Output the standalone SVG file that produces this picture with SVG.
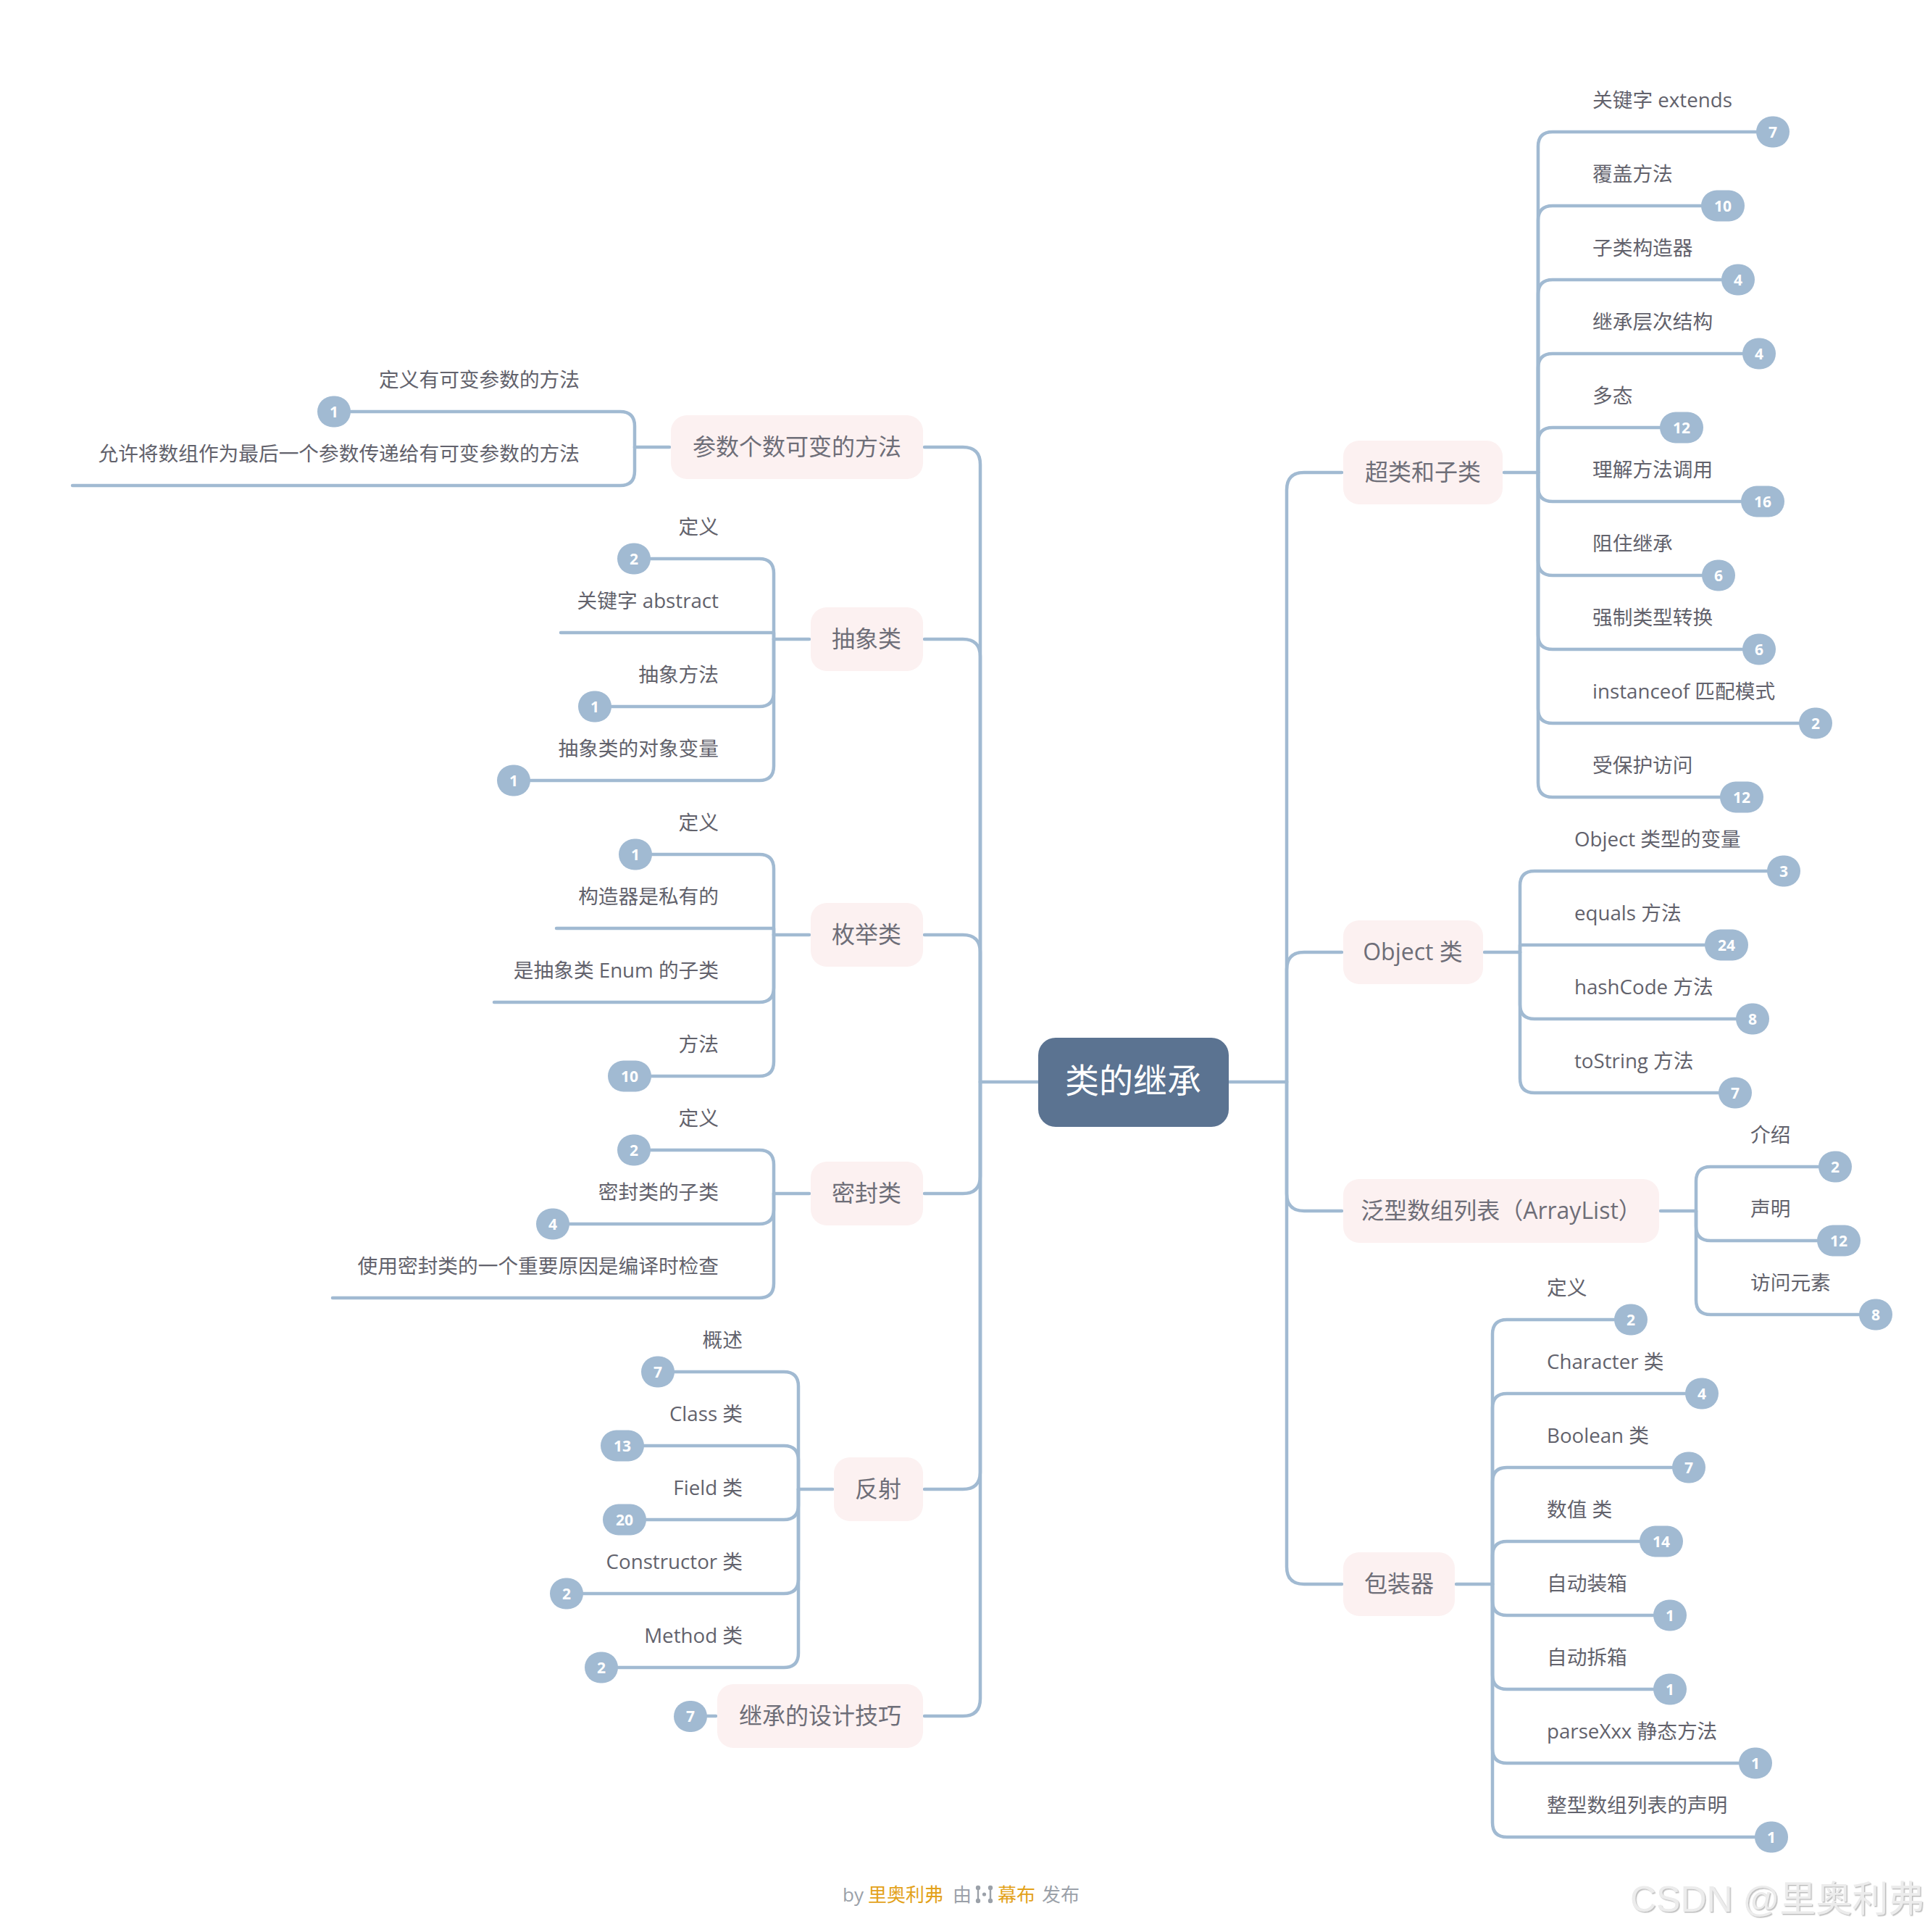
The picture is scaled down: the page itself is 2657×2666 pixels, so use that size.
<svg xmlns="http://www.w3.org/2000/svg" width="2657" height="2666" viewBox="0 0 2657 2666">
<style>
text{font-family:"Open Sans","Noto Sans CJK SC",sans-serif}
.ln{fill:none;stroke:#a1bad2;stroke-width:4.5;stroke-linecap:round;stroke-linejoin:round}
.bd{fill:#a1bad2}
.bt{fill:#fff;font-size:21px;font-weight:700;text-anchor:middle}
.nb{fill:#fcf1f1}
.nt{fill:#6e6e78;font-size:32px;text-anchor:middle}
.t2{fill:#62626c;font-size:27.7px}
.tl{text-anchor:end}
.ft{font-size:26px}
.g{fill:#9ba1a9}
.o{fill:#e3a21a}
</style>
<defs>
<filter id="emb" x="-5%" y="-20%" width="110%" height="140%">
<feDropShadow dx="1.5" dy="1.5" stdDeviation="0.6" flood-color="#b8b8b8" flood-opacity="0.9"/>
</filter>
</defs>
<rect width="2657" height="2666" fill="#ffffff"/>

<g id="connectors">
<path class="ln" d="M1696 1493 H1776"/>
<path class="ln" d="M1433 1493 H1353"/>
<path class="ln" d="M1776 1493 V676 Q1776 652 1800 652 H1852"/>
<path class="ln" d="M1776 1493 V1338 Q1776 1314 1800 1314 H1852"/>
<path class="ln" d="M1776 1493 V1647 Q1776 1671 1800 1671 H1852"/>
<path class="ln" d="M1776 1493 V2162 Q1776 2186 1800 2186 H1852"/>
<path class="ln" d="M1353 1493 V641 Q1353 617 1329 617 H1276"/>
<path class="ln" d="M1353 1493 V906 Q1353 882 1329 882 H1276"/>
<path class="ln" d="M1353 1493 V1314 Q1353 1290 1329 1290 H1276"/>
<path class="ln" d="M1353 1493 V1623 Q1353 1647 1329 1647 H1276"/>
<path class="ln" d="M1353 1493 V2031 Q1353 2055 1329 2055 H1276"/>
<path class="ln" d="M1353 1493 V2344 Q1353 2368 1329 2368 H1276"/>
<path class="ln" d="M953 2368 H988"/>

<path class="ln" d="M2076 652 H2123"/>
<path class="ln" d="M2123 652 V202 Q2123 182 2143 182 H2447"/>
<path class="ln" d="M2123 652 V304 Q2123 284 2143 284 H2378"/>
<path class="ln" d="M2123 652 V406 Q2123 386 2143 386 H2399"/>
<path class="ln" d="M2123 652 V508 Q2123 488 2143 488 H2428"/>
<path class="ln" d="M2123 652 V610 Q2123 590 2143 590 H2321"/>
<path class="ln" d="M2123 652 V672 Q2123 692 2143 692 H2433"/>
<path class="ln" d="M2123 652 V774 Q2123 794 2143 794 H2372"/>
<path class="ln" d="M2123 652 V876 Q2123 896 2143 896 H2428"/>
<path class="ln" d="M2123 652 V978 Q2123 998 2143 998 H2506"/>
<path class="ln" d="M2123 652 V1080 Q2123 1100 2143 1100 H2404"/>

<path class="ln" d="M2049 1314 H2098"/>
<path class="ln" d="M2098 1314 V1222 Q2098 1202 2118 1202 H2462"/>
<path class="ln" d="M2098 1314 V1304 H2383"/>
<path class="ln" d="M2098 1314 V1386 Q2098 1406 2118 1406 H2419"/>
<path class="ln" d="M2098 1314 V1488 Q2098 1508 2118 1508 H2395"/>

<path class="ln" d="M2292 1671 H2341"/>
<path class="ln" d="M2341 1671 V1630 Q2341 1610 2361 1610 H2533"/>
<path class="ln" d="M2341 1671 V1692 Q2341 1712 2361 1712 H2538"/>
<path class="ln" d="M2341 1671 V1794 Q2341 1814 2361 1814 H2589"/>

<path class="ln" d="M2010 2186 H2060"/>
<path class="ln" d="M2060 2186 V1841 Q2060 1821 2080 1821 H2251"/>
<path class="ln" d="M2060 2186 V1943 Q2060 1923 2080 1923 H2349"/>
<path class="ln" d="M2060 2186 V2045 Q2060 2025 2080 2025 H2331"/>
<path class="ln" d="M2060 2186 V2147 Q2060 2127 2080 2127 H2293"/>
<path class="ln" d="M2060 2186 V2209 Q2060 2229 2080 2229 H2305"/>
<path class="ln" d="M2060 2186 V2311 Q2060 2331 2080 2331 H2305"/>
<path class="ln" d="M2060 2186 V2413 Q2060 2433 2080 2433 H2423"/>
<path class="ln" d="M2060 2186 V2515 Q2060 2535 2080 2535 H2445"/>

<path class="ln" d="M924 617 H876"/>
<path class="ln" d="M876 617 V588 Q876 568 856 568 H461"/>
<path class="ln" d="M876 617 V650 Q876 670 856 670 H100"/>

<path class="ln" d="M1117 882 H1068"/>
<path class="ln" d="M1068 882 V791 Q1068 771 1048 771 H875"/>
<path class="ln" d="M1068 882 V873 H774"/>
<path class="ln" d="M1068 882 V955 Q1068 975 1048 975 H821"/>
<path class="ln" d="M1068 882 V1057 Q1068 1077 1048 1077 H709"/>

<path class="ln" d="M1117 1290 H1068"/>
<path class="ln" d="M1068 1290 V1199 Q1068 1179 1048 1179 H877"/>
<path class="ln" d="M1068 1290 V1281 H768"/>
<path class="ln" d="M1068 1290 V1363 Q1068 1383 1048 1383 H682"/>
<path class="ln" d="M1068 1290 V1465 Q1068 1485 1048 1485 H869"/>

<path class="ln" d="M1117 1647 H1068"/>
<path class="ln" d="M1068 1647 V1607 Q1068 1587 1048 1587 H875"/>
<path class="ln" d="M1068 1647 V1669 Q1068 1689 1048 1689 H763"/>
<path class="ln" d="M1068 1647 V1771 Q1068 1791 1048 1791 H459"/>

<path class="ln" d="M1149 2055 H1102"/>
<path class="ln" d="M1102 2055 V1913 Q1102 1893 1082 1893 H908"/>
<path class="ln" d="M1102 2055 V2015 Q1102 1995 1082 1995 H859"/>
<path class="ln" d="M1102 2055 V2077 Q1102 2097 1082 2097 H862"/>
<path class="ln" d="M1102 2055 V2179 Q1102 2199 1082 2199 H782"/>
<path class="ln" d="M1102 2055 V2281 Q1102 2301 1082 2301 H830"/>
</g>

<g id="root">
<rect x="1433" y="1432" width="263" height="123" rx="24" fill="#5b7391"/>
<text x="1564" y="1508" font-size="47" fill="#ffffff" text-anchor="middle">类的继承</text>
</g>

<g id="n-super">
<rect class="nb" x="1854" y="608" width="220" height="88" rx="22"/>
<text class="nt" x="1964" y="663">超类和子类</text>
</g>
<g id="n-object">
<rect class="nb" x="1854" y="1270" width="193" height="88" rx="22"/>
<text class="nt" x="1950" y="1325">Object 类</text>
</g>
<g id="n-arraylist">
<rect class="nb" x="1854" y="1627" width="436" height="88" rx="22"/>
<text class="nt" x="2072" y="1682">泛型数组列表（ArrayList）</text>
</g>
<g id="n-wrapper">
<rect class="nb" x="1854" y="2142" width="154" height="88" rx="22"/>
<text class="nt" x="1931" y="2197">包装器</text>
</g>

<g id="n-varargs">
<rect class="nb" x="926" y="573" width="348" height="88" rx="22"/>
<text class="nt" x="1100" y="628">参数个数可变的方法</text>
</g>
<g id="n-abstract">
<rect class="nb" x="1119" y="838" width="155" height="88" rx="22"/>
<text class="nt" x="1196" y="893">抽象类</text>
</g>
<g id="n-enum">
<rect class="nb" x="1119" y="1246" width="155" height="88" rx="22"/>
<text class="nt" x="1196" y="1301">枚举类</text>
</g>
<g id="n-sealed">
<rect class="nb" x="1119" y="1603" width="155" height="88" rx="22"/>
<text class="nt" x="1196" y="1658">密封类</text>
</g>
<g id="n-reflect">
<rect class="nb" x="1151" y="2011" width="123" height="88" rx="22"/>
<text class="nt" x="1212" y="2066">反射</text>
</g>
<g id="n-tips">
<rect class="nb" x="990" y="2324" width="284" height="88" rx="22"/>
<text class="nt" x="1132" y="2379">继承的设计技巧</text>
<rect class="bd" x="930" y="2347" width="46" height="43" rx="21.5"/>
<text class="bt" x="953" y="2376">7</text>
</g>

<g id="super-children">
<g id="s1"><text class="t2" x="2198" y="148">关键字 extends</text><rect class="bd" x="2424" y="160.5" width="46" height="43" rx="21.5"/><text class="bt" x="2447" y="190">7</text></g>
<g id="s2"><text class="t2" x="2198" y="250">覆盖方法</text><rect class="bd" x="2348" y="262.5" width="60" height="43" rx="21.5"/><text class="bt" x="2378" y="292">10</text></g>
<g id="s3"><text class="t2" x="2198" y="352">子类构造器</text><rect class="bd" x="2376" y="364.5" width="46" height="43" rx="21.5"/><text class="bt" x="2399" y="394">4</text></g>
<g id="s4"><text class="t2" x="2198" y="454">继承层次结构</text><rect class="bd" x="2405" y="466.5" width="46" height="43" rx="21.5"/><text class="bt" x="2428" y="496">4</text></g>
<g id="s5"><text class="t2" x="2198" y="556">多态</text><rect class="bd" x="2291" y="568.5" width="60" height="43" rx="21.5"/><text class="bt" x="2321" y="598">12</text></g>
<g id="s6"><text class="t2" x="2198" y="658">理解方法调用</text><rect class="bd" x="2403" y="670.5" width="60" height="43" rx="21.5"/><text class="bt" x="2433" y="700">16</text></g>
<g id="s7"><text class="t2" x="2198" y="760">阻住继承</text><rect class="bd" x="2349" y="772.5" width="46" height="43" rx="21.5"/><text class="bt" x="2372" y="802">6</text></g>
<g id="s8"><text class="t2" x="2198" y="862">强制类型转换</text><rect class="bd" x="2405" y="874.5" width="46" height="43" rx="21.5"/><text class="bt" x="2428" y="904">6</text></g>
<g id="s9"><text class="t2" x="2198" y="964">instanceof 匹配模式</text><rect class="bd" x="2483" y="976.5" width="46" height="43" rx="21.5"/><text class="bt" x="2506" y="1006">2</text></g>
<g id="s10"><text class="t2" x="2198" y="1066">受保护访问</text><rect class="bd" x="2374" y="1078.5" width="60" height="43" rx="21.5"/><text class="bt" x="2404" y="1108">12</text></g>
</g>

<g id="object-children">
<g id="o1"><text class="t2" x="2173" y="1168">Object 类型的变量</text><rect class="bd" x="2439" y="1180.5" width="46" height="43" rx="21.5"/><text class="bt" x="2462" y="1210">3</text></g>
<g id="o2"><text class="t2" x="2173" y="1270">equals 方法</text><rect class="bd" x="2353" y="1282.5" width="60" height="43" rx="21.5"/><text class="bt" x="2383" y="1312">24</text></g>
<g id="o3"><text class="t2" x="2173" y="1372">hashCode 方法</text><rect class="bd" x="2396" y="1384.5" width="46" height="43" rx="21.5"/><text class="bt" x="2419" y="1414">8</text></g>
<g id="o4"><text class="t2" x="2173" y="1474">toString 方法</text><rect class="bd" x="2372" y="1486.5" width="46" height="43" rx="21.5"/><text class="bt" x="2395" y="1516">7</text></g>
</g>

<g id="arraylist-children">
<g id="a1"><text class="t2" x="2416" y="1576">介绍</text><rect class="bd" x="2510" y="1588.5" width="46" height="43" rx="21.5"/><text class="bt" x="2533" y="1618">2</text></g>
<g id="a2"><text class="t2" x="2416" y="1678">声明</text><rect class="bd" x="2508" y="1690.5" width="60" height="43" rx="21.5"/><text class="bt" x="2538" y="1720">12</text></g>
<g id="a3"><text class="t2" x="2416" y="1780">访问元素</text><rect class="bd" x="2566" y="1792.5" width="46" height="43" rx="21.5"/><text class="bt" x="2589" y="1822">8</text></g>
</g>

<g id="wrapper-children">
<g id="w1"><text class="t2" x="2135" y="1787">定义</text><rect class="bd" x="2228" y="1799.5" width="46" height="43" rx="21.5"/><text class="bt" x="2251" y="1829">2</text></g>
<g id="w2"><text class="t2" x="2135" y="1889">Character 类</text><rect class="bd" x="2326" y="1901.5" width="46" height="43" rx="21.5"/><text class="bt" x="2349" y="1931">4</text></g>
<g id="w3"><text class="t2" x="2135" y="1991">Boolean 类</text><rect class="bd" x="2308" y="2003.5" width="46" height="43" rx="21.5"/><text class="bt" x="2331" y="2033">7</text></g>
<g id="w4"><text class="t2" x="2135" y="2093">数值 类</text><rect class="bd" x="2263" y="2105.5" width="60" height="43" rx="21.5"/><text class="bt" x="2293" y="2135">14</text></g>
<g id="w5"><text class="t2" x="2135" y="2195">自动装箱</text><rect class="bd" x="2282" y="2207.5" width="46" height="43" rx="21.5"/><text class="bt" x="2305" y="2237">1</text></g>
<g id="w6"><text class="t2" x="2135" y="2297">自动拆箱</text><rect class="bd" x="2282" y="2309.5" width="46" height="43" rx="21.5"/><text class="bt" x="2305" y="2339">1</text></g>
<g id="w7"><text class="t2" x="2135" y="2399">parseXxx 静态方法</text><rect class="bd" x="2400" y="2411.5" width="46" height="43" rx="21.5"/><text class="bt" x="2423" y="2441">1</text></g>
<g id="w8"><text class="t2" x="2135" y="2501">整型数组列表的声明</text><rect class="bd" x="2422" y="2513.5" width="46" height="43" rx="21.5"/><text class="bt" x="2445" y="2543">1</text></g>
</g>

<g id="varargs-children">
<g id="v1"><text class="t2 tl" x="800" y="534">定义有可变参数的方法</text><rect class="bd" x="438" y="546.5" width="46" height="43" rx="21.5"/><text class="bt" x="461" y="576">1</text></g>
<g id="v2"><text class="t2 tl" x="800" y="636">允许将数组作为最后一个参数传递给有可变参数的方法</text></g>
</g>

<g id="abstract-children">
<g id="ab1"><text class="t2 tl" x="992" y="737">定义</text><rect class="bd" x="852" y="749.5" width="46" height="43" rx="21.5"/><text class="bt" x="875" y="779">2</text></g>
<g id="ab2"><text class="t2 tl" x="992" y="839">关键字 abstract</text></g>
<g id="ab3"><text class="t2 tl" x="992" y="941">抽象方法</text><rect class="bd" x="798" y="953.5" width="46" height="43" rx="21.5"/><text class="bt" x="821" y="983">1</text></g>
<g id="ab4"><text class="t2 tl" x="992" y="1043">抽象类的对象变量</text><rect class="bd" x="686" y="1055.5" width="46" height="43" rx="21.5"/><text class="bt" x="709" y="1085">1</text></g>
</g>

<g id="enum-children">
<g id="e1"><text class="t2 tl" x="992" y="1145">定义</text><rect class="bd" x="854" y="1157.5" width="46" height="43" rx="21.5"/><text class="bt" x="877" y="1187">1</text></g>
<g id="e2"><text class="t2 tl" x="992" y="1247">构造器是私有的</text></g>
<g id="e3"><text class="t2 tl" x="992" y="1349">是抽象类 Enum 的子类</text></g>
<g id="e4"><text class="t2 tl" x="992" y="1451">方法</text><rect class="bd" x="839" y="1463.5" width="60" height="43" rx="21.5"/><text class="bt" x="869" y="1493">10</text></g>
</g>

<g id="sealed-children">
<g id="se1"><text class="t2 tl" x="992" y="1553">定义</text><rect class="bd" x="852" y="1565.5" width="46" height="43" rx="21.5"/><text class="bt" x="875" y="1595">2</text></g>
<g id="se2"><text class="t2 tl" x="992" y="1655">密封类的子类</text><rect class="bd" x="740" y="1667.5" width="46" height="43" rx="21.5"/><text class="bt" x="763" y="1697">4</text></g>
<g id="se3"><text class="t2 tl" x="992" y="1757">使用密封类的一个重要原因是编译时检查</text></g>
</g>

<g id="reflect-children">
<g id="r1"><text class="t2 tl" x="1025" y="1859">概述</text><rect class="bd" x="885" y="1871.5" width="46" height="43" rx="21.5"/><text class="bt" x="908" y="1901">7</text></g>
<g id="r2"><text class="t2 tl" x="1025" y="1961">Class 类</text><rect class="bd" x="829" y="1973.5" width="60" height="43" rx="21.5"/><text class="bt" x="859" y="2003">13</text></g>
<g id="r3"><text class="t2 tl" x="1025" y="2063">Field 类</text><rect class="bd" x="832" y="2075.5" width="60" height="43" rx="21.5"/><text class="bt" x="862" y="2105">20</text></g>
<g id="r4"><text class="t2 tl" x="1025" y="2165">Constructor 类</text><rect class="bd" x="759" y="2177.5" width="46" height="43" rx="21.5"/><text class="bt" x="782" y="2207">2</text></g>
<g id="r5"><text class="t2 tl" x="1025" y="2267">Method 类</text><rect class="bd" x="807" y="2279.5" width="46" height="43" rx="21.5"/><text class="bt" x="830" y="2309">2</text></g>
</g>

<g id="footer">
<text class="ft g" x="1163" y="2624">by</text>
<text class="ft o" x="1198" y="2624">里奥利弗</text>
<text class="ft g" x="1315" y="2624">由</text>
<g fill="#9ba1a9" stroke="#9ba1a9">
<path d="M1350 2606 V2622" stroke-width="2.4" fill="none"/>
<circle cx="1350" cy="2605" r="3.2" stroke="none"/>
<circle cx="1350" cy="2623" r="3.2" stroke="none"/>
<circle cx="1358.5" cy="2614" r="2.6" stroke="none"/>
<path d="M1367 2606 V2622" stroke-width="2.4" fill="none"/>
<circle cx="1367" cy="2605" r="3.2" stroke="none"/>
<circle cx="1367" cy="2623" r="3.2" stroke="none"/>
</g>
<text class="ft o" x="1377" y="2624">幕布</text>
<text class="ft g" x="1438" y="2624">发布</text>
</g>

<g id="watermark">
<text x="2250" y="2638" font-size="50" fill="#ececec" filter="url(#emb)" style="font-family:'Liberation Sans','Noto Sans CJK SC',sans-serif">CSDN @里奥利弗</text>
</g>
</svg>
